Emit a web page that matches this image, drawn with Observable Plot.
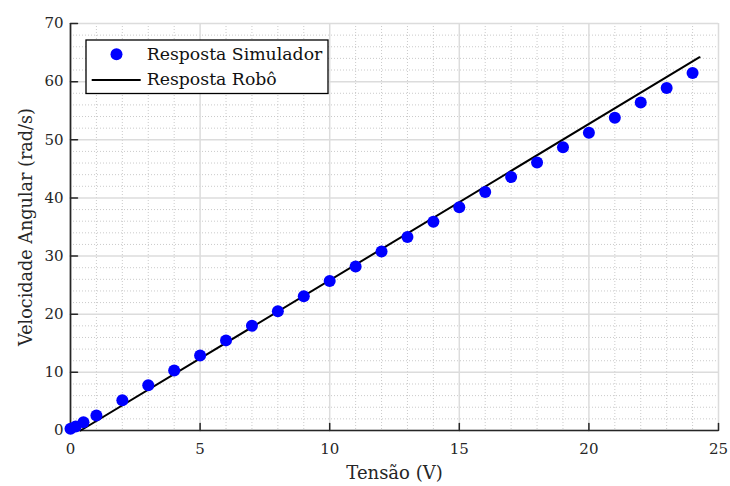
<!DOCTYPE html>
<html><head><meta charset="utf-8">
<script src="https://cdn.jsdelivr.net/npm/d3@7"></script>
<script src="https://cdn.jsdelivr.net/npm/@observablehq/plot@0.6"></script>
<style>body{margin:0;background:#fff}</style>
</head><body><div id="chart"></div>
<script>
// Data
const simX = [0, 0.2, 0.5, 1, 2, 3, 4, 5, 6, 7, 8, 9, 10, 11, 12, 13, 14, 15, 16, 17, 18, 19, 20, 21, 22, 23, 24];
const simY = [0.3, 0.7, 1.4, 2.6, 5.2, 7.8, 10.3, 12.9, 15.5, 18.0, 20.5, 23.1, 25.7, 28.2, 30.8, 33.3, 35.9, 38.4, 41.0, 43.6, 46.1, 48.7, 51.2, 53.8, 56.4, 58.9, 61.5];
const robotX = [0.39, 24.27];
const robotY = [0, 64.2];
const xTicks = [0, 5, 10, 15, 20, 25];
const yTicks = [0, 10, 20, 30, 40, 50, 60, 70];
const xMinor = [1,2,3,4,6,7,8,9,11,12,13,14,16,17,18,19,21,22,23,24];
const yMinor = [2,4,6,8,12,14,16,18,22,24,26,28,32,34,36,38,42,44,46,48,52,54,56,58,62,64,66,68];
const legendLabels = ["Resposta Simulador", "Resposta Robô"];
const xLabel = "Tensão (V)";
const yLabel = "Velocidade Angular (rad/s)";

const sim = simX.map((x, i) => ({x, y: simY[i]}));
const robot = robotX.map((x, i) => ({x, y: robotY[i]}));

const font = "'DejaVu Serif', 'Liberation Serif', serif";
const axisColor = "#262626";
const tickShape = {draw(ctx, l) { ctx.moveTo(0, 0); ctx.lineTo(0, -l); }};

const plot = Plot.plot({
  width: 730,
  height: 486,
  marginLeft: 70,
  marginRight: 12,
  marginTop: 23,
  marginBottom: 56,
  style: {fontFamily: font, background: "#fff"},
  x: {domain: [0, 25]},
  y: {domain: [0, 70]},
  marks: [
    Plot.gridX(xMinor, {stroke: "#bdbdbd", strokeOpacity: 1, strokeWidth: 0.8, strokeDasharray: "1,2"}),
    Plot.gridY(yMinor, {stroke: "#bdbdbd", strokeOpacity: 1, strokeWidth: 0.8, strokeDasharray: "1,2"}),
    Plot.gridX(xTicks, {stroke: "#dcdcdc", strokeOpacity: 1, strokeWidth: 1.5}),
    Plot.gridY(yTicks, {stroke: "#dcdcdc", strokeOpacity: 1, strokeWidth: 1.5}),
    Plot.axisX(xTicks, {tickSize: 0, tickPadding: 13, fontSize: 15, fontFamily: font, fill: axisColor, label: null}),
    Plot.axisY(yTicks, {tickSize: 0, tickPadding: 7, fontSize: 15, fontFamily: font, fill: axisColor, label: null}),
    Plot.vector(xTicks, {x: d => d, y: () => 0, length: 7, rotate: 0, anchor: "start", shape: tickShape, stroke: axisColor, strokeWidth: 1.5}),
    Plot.vector(yTicks, {x: () => 0, y: d => d, length: 7, rotate: 90, anchor: "start", shape: tickShape, stroke: axisColor, strokeWidth: 1.5}),
    Plot.ruleY([0], {stroke: axisColor, strokeWidth: 1.7}),
    Plot.ruleX([0], {stroke: axisColor, strokeWidth: 1.7}),
    Plot.line(robot, {x: "x", y: "y", stroke: "#000", strokeWidth: 2}),
    Plot.dot(sim, {x: "x", y: "y", r: 6, fill: "#0000ff", stroke: "none"}),
    Plot.text([xLabel], {frameAnchor: "bottom", dy: 48, lineAnchor: "bottom", textAnchor: "middle", fontSize: 18, fontFamily: font, fill: axisColor}),
    Plot.text([yLabel], {frameAnchor: "left", dx: -44, rotate: -90, lineAnchor: "middle", textAnchor: "middle", fontSize: 17.6, fontFamily: font, fill: axisColor})
  ]
});

// Legend (pixel-positioned box, like MATLAB's northwest legend)
const svg = d3.select(plot);
const lg = svg.append("g").attr("font-family", font).attr("font-size", 17.3).attr("fill", "#111").attr("text-anchor", "start");
lg.append("rect").attr("x", 86).attr("y", 40).attr("width", 242).attr("height", 53.5)
  .attr("fill", "#fff").attr("stroke", "#000").attr("stroke-width", 1.3);
lg.append("circle").attr("cx", 116.5).attr("cy", 54.3).attr("r", 6).attr("fill", "#0000ff");
lg.append("line").attr("x1", 91.7).attr("x2", 140.7).attr("y1", 80).attr("y2", 80)
  .attr("stroke", "#000").attr("stroke-width", 2);
lg.append("text").attr("x", 146.7).attr("y", 59.5).attr("text-anchor", "start").text(legendLabels[0]);
lg.append("text").attr("x", 146.7).attr("y", 85).attr("text-anchor", "start").text(legendLabels[1]);

document.getElementById("chart").appendChild(plot);
</script>
</body></html>
